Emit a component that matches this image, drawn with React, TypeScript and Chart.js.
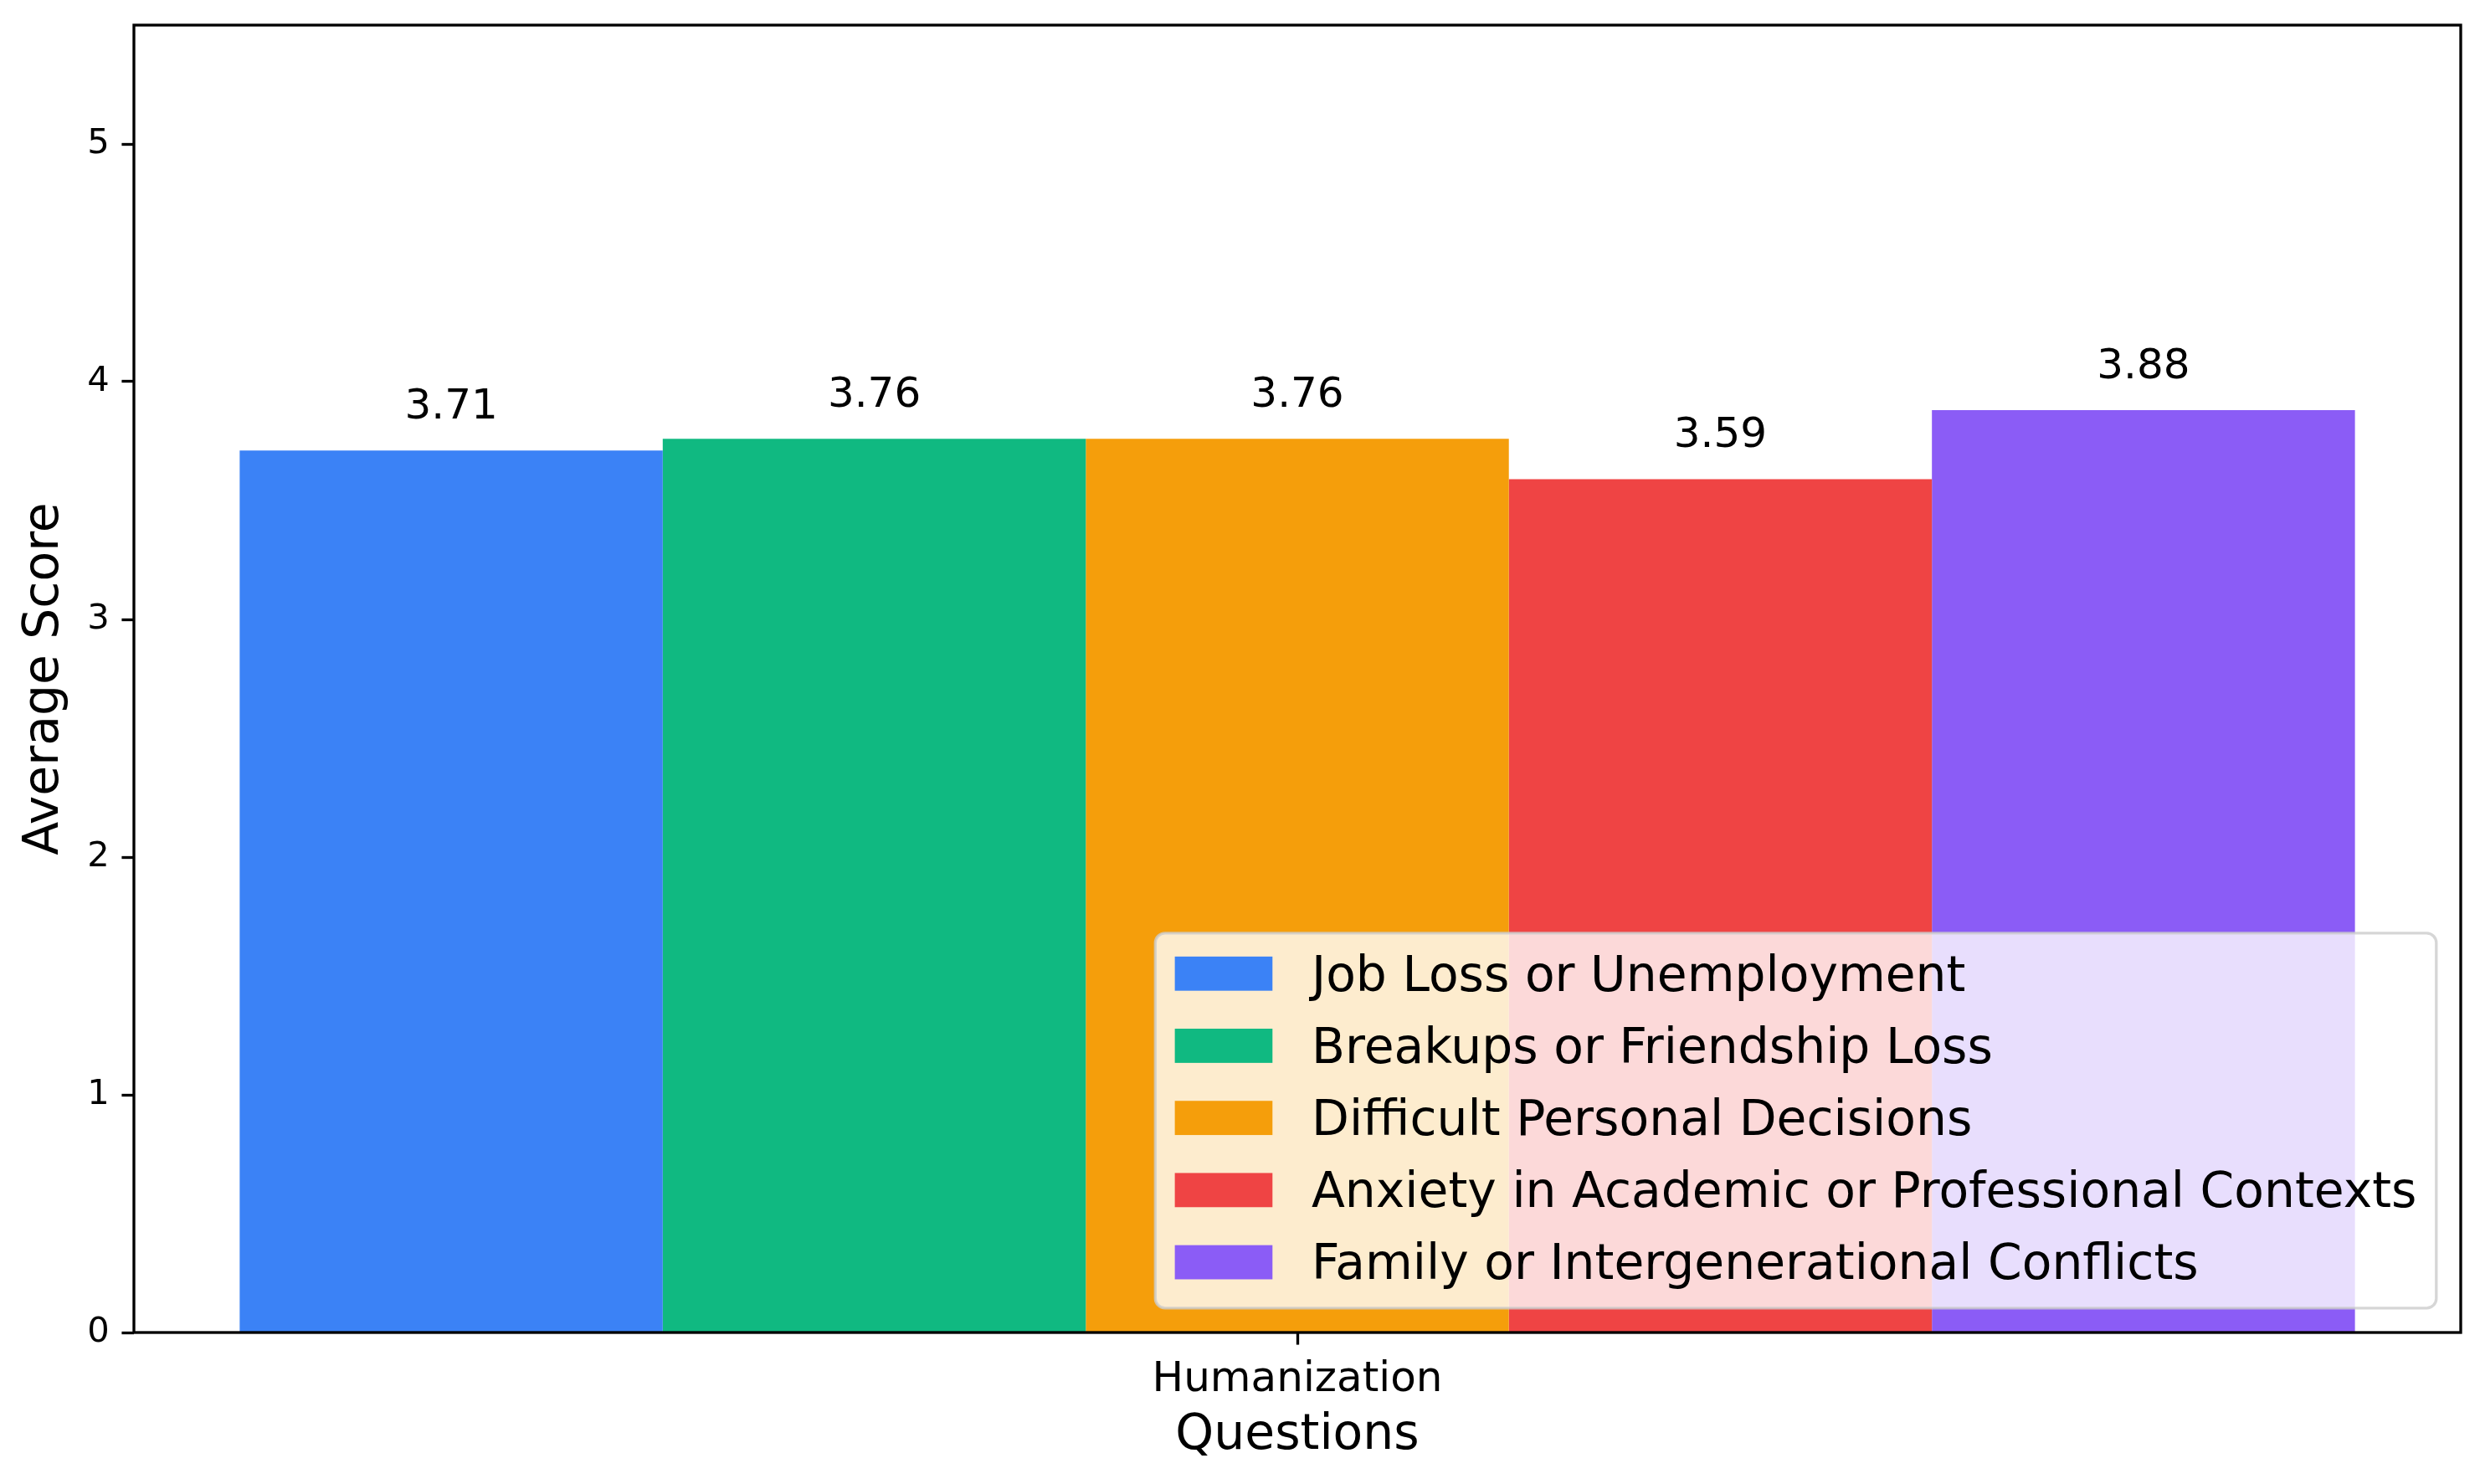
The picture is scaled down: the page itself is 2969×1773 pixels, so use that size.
import React, { useEffect, useRef } from 'react';
import { Chart, registerables } from 'chart.js';

Chart.register(...registerables);

// ---- data ----
const categories = ['Humanization'];
const seriesLabels = [
  'Job Loss or Unemployment',
  'Breakups or Friendship Loss',
  'Difficult Personal Decisions',
  'Anxiety in Academic or Professional Contexts',
  'Family or Intergenerational Conflicts',
];
const jobLoss = [3.71];
const breakups = [3.76];
const decisions = [3.76];
const anxiety = [3.59];
const family = [3.88];
const seriesValues = [jobLoss, breakups, decisions, anxiety, family];
const seriesColors = ['#3B82F6', '#10B981', '#F59E0B', '#EF4444', '#8B5CF6'];
const yTicks = [0, 1, 2, 3, 4, 5];
const yMax = 5.5;
const xTitle = 'Questions';
const yTitle = 'Average Score';

// ---- layout constants ----
const W = 2969;
const H = 1773;
const FONT = "'DejaVu Sans', 'Liberation Sans', sans-serif";
const PT = 300 / 72;

const framePlugin = {
  id: 'frame',
  afterDatasetsDraw(chart: any) {
    const { ctx, chartArea } = chart;
    ctx.save();
    ctx.strokeStyle = '#000';
    ctx.lineWidth = 0.8 * PT;
    ctx.strokeRect(chartArea.left, chartArea.top, chartArea.right - chartArea.left, chartArea.bottom - chartArea.top);
    ctx.restore();
  },
};

const valueLabelPlugin = {
  id: 'valueLabels',
  afterDatasetsDraw(chart: any) {
    const { ctx } = chart;
    ctx.save();
    ctx.font = `${12 * PT}px ${FONT}`;
    ctx.fillStyle = '#000';
    ctx.textAlign = 'center';
    ctx.textBaseline = 'alphabetic';
    chart.data.datasets.forEach((ds: any, i: number) => {
      const meta = chart.getDatasetMeta(i);
      meta.data.forEach((el: any, j: number) => {
        const v = ds.data[j];
        ctx.fillText(v.toFixed(2), el.x, el.y - 38);
      });
    });
    ctx.restore();
  },
};

const legendPlugin = {
  id: 'innerLegend',
  afterDraw(chart: any) {
    const { ctx, chartArea } = chart;
    const fs = 14 * PT;
    const borderPad = 0.4 * fs;
    const handleLen = 2.0 * fs;
    const handleH = 0.7 * fs;
    const textPad = 0.8 * fs;
    const rowPitch = 86.2;
    const axPad = 0.5 * fs;
    ctx.save();
    ctx.font = `${fs}px ${FONT}`;
    const datasets = chart.data.datasets;
    let maxW = 0;
    datasets.forEach((ds: any) => {
      maxW = Math.max(maxW, ctx.measureText(ds.label).width);
    });
    const boxW = borderPad * 2 + handleLen + textPad + maxW;
    const boxH = 448;
    const right = chartArea.right - axPad;
    const bottom = chartArea.bottom - axPad;
    const left = right - boxW;
    const top = bottom - boxH;
    const r = 0.2 * fs;
    ctx.beginPath();
    ctx.moveTo(left + r, top);
    ctx.lineTo(right - r, top);
    ctx.arcTo(right, top, right, top + r, r);
    ctx.lineTo(right, bottom - r);
    ctx.arcTo(right, bottom, right - r, bottom, r);
    ctx.lineTo(left + r, bottom);
    ctx.arcTo(left, bottom, left, bottom - r, r);
    ctx.lineTo(left, top + r);
    ctx.arcTo(left, top, left + r, top, r);
    ctx.closePath();
    ctx.fillStyle = 'rgba(255,255,255,0.8)';
    ctx.fill();
    ctx.strokeStyle = 'rgba(204,204,204,0.8)';
    ctx.lineWidth = 1.0 * PT * 0.8;
    ctx.stroke();
    ctx.textAlign = 'left';
    ctx.textBaseline = 'alphabetic';
    datasets.forEach((ds: any, i: number) => {
      const rowTop = top + 28 + i * rowPitch;
      ctx.fillStyle = ds.backgroundColor;
      ctx.fillRect(left + borderPad, rowTop, handleLen, handleH);
      ctx.fillStyle = '#000';
      ctx.fillText(ds.label, left + borderPad + handleLen + textPad, rowTop + handleH);
    });
    ctx.restore();
  },
};

export default function App() {
  const canvasRef = useRef<HTMLCanvasElement | null>(null);

  useEffect(() => {
    document.body.style.margin = '0';
    const canvas = canvasRef.current;
    if (!canvas) return;
    const chart = new Chart(canvas, {
      type: 'bar',
      data: {
        labels: categories,
        datasets: seriesLabels.map((label, i) => ({
          label,
          data: seriesValues[i],
          backgroundColor: seriesColors[i],
          borderWidth: 0,
          categoryPercentage: 1 / 1.1,
          barPercentage: 1.0,
        })),
      },
      options: {
        responsive: false,
        animation: false,
        devicePixelRatio: 1,
        layout: { padding: { top: 30, right: 29, left: 0, bottom: 0 } },
        plugins: {
          legend: { display: false },
          tooltip: { enabled: false },
        },
        scales: {
          x: {
            type: 'category',
            offset: true,
            grid: {
              display: true,
              drawOnChartArea: false,
              drawTicks: true,
              tickLength: 3.5 * PT,
              tickWidth: 0.8 * PT,
              tickColor: '#000',
              offset: false,
            },
            border: { display: false },
            ticks: {
              color: '#000',
              font: { family: FONT, size: 12 * PT },
              padding: 12,
            },
            title: {
              display: true,
              text: xTitle,
              color: '#000',
              font: { family: FONT, size: 14 * PT, lineHeight: 1.2 },
              padding: { top: 0, bottom: 22 },
            },
            afterFit: (s: any) => {
              s.height = 181;
              s.paddingLeft = 0;
              s.paddingRight = 0;
            },
          },
          y: {
            min: 0,
            max: yMax,
            afterBuildTicks: (s: any) => {
              s.ticks = yTicks.map((v) => ({ value: v }));
            },
            grid: {
              display: true,
              drawOnChartArea: false,
              drawTicks: true,
              tickLength: 3.5 * PT,
              tickWidth: 0.8 * PT,
              tickColor: '#000',
            },
            border: { display: false },
            ticks: {
              color: '#000',
              font: { family: FONT, size: 10 * PT },
              padding: 3.5 * PT,
            },
            title: {
              display: true,
              text: yTitle,
              color: '#000',
              font: { family: FONT, size: 14 * PT, lineHeight: 1.2 },
              padding: { top: 19, bottom: 0 },
            },
            afterFit: (s: any) => {
              s.width = 160;
              s.paddingTop = 0;
              s.paddingBottom = 0;
            },
          },
        },
      },
      plugins: [framePlugin, valueLabelPlugin, legendPlugin],
    });
    return () => {
      chart.destroy();
    };
  }, []);

  return (
    <div style={{ position: 'absolute', left: 0, top: 0, width: W, height: H, background: '#fff' }}>
      <canvas ref={canvasRef} width={W} height={H} style={{ width: W, height: H, display: 'block' }} />
    </div>
  );
}
